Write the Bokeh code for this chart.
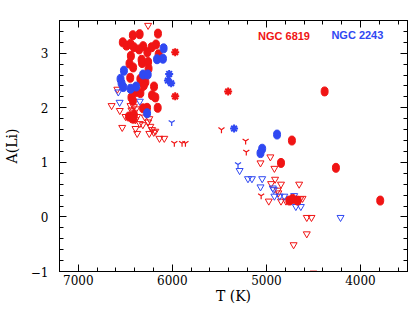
from bokeh.plotting import figure
from bokeh.models import Range1d, LinearAxis, SingleIntervalTicker
from bokeh.core.properties import value
from bokeh.embed import file_html
from bokeh.resources import INLINE

RED = "#f01414"
BLUE = "#2f48f2"

# NGC 6819 detections (filled circles)
r_det_T = [6420, 6348, 6153, 6527, 6488, 6445, 6409, 6311, 6353, 6221, 6174, 6266,
           6441, 6327, 6146, 6322, 6258, 6456, 6417, 6253, 6448, 6329, 6287, 6195,
           6385, 6435, 6216, 6181, 6420, 6311, 6269, 6156, 6340, 6304, 6462, 6409,
           6417, 6340, 4729, 4845, 4261, 4381, 3790, 4757, 4721, 4669]
r_det_A = [3.33, 3.35, 3.36, 3.20, 3.14, 3.17, 3.11, 3.13, 3.07, 3.11, 3.16, 3.02,
           2.95, 2.88, 2.98, 2.82, 2.84, 2.81, 2.74, 2.72, 2.55, 2.50, 2.47, 2.39,
           2.29, 2.19, 2.23, 2.19, 2.13, 1.99, 2.00, 2.00, 2.27, 2.41, 1.84, 1.87,
           1.80, 2.53, 1.40, 0.99, 0.90, 2.30, 0.30, 0.30, 0.33, 0.30]

# NGC 6819 asterisks
r_ast_T = [5970, 5970, 5407]
r_ast_A = [3.02, 2.21, 2.30]

# NGC 6819 upper limits (open triangles)
r_lim_T = [6258, 6585, 6304, 6646, 6559, 6445, 6409, 6385, 6435, 6420, 6498, 6445,
           6374, 6392, 6293, 6245, 6258, 6346, 6314, 6533, 6392, 6374, 6234, 6216,
           6245, 6198, 6181, 6137, 6086, 4958, 5063, 4915, 4908, 4950, 4845, 4652,
           4880, 4873, 4975, 4845, 4792, 4739, 4687, 4641, 4616, 4571, 4521, 4571,
           4711, 4500]
r_lim_A = [3.51, 2.34, 2.38, 2.04, 1.95, 2.04, 2.02, 1.98, 1.96, 1.92, 1.84, 1.80,
           1.84, 1.78, 1.83, 1.80, 1.74, 1.71, 1.69, 1.64, 1.62, 1.53, 1.66, 1.60,
           1.53, 1.55, 1.57, 1.44, 1.44, 1.10, 0.99, 0.89, 0.69, 0.61, 0.60, 0.60,
           0.49, 0.44, 0.29, 0.29, 0.29, 0.29, 0.33, 0.33, 0.34, -0.01, -0.01, -0.31,
           -0.51, -1.03]

# NGC 6819 "Y" limits
r_y_T = [5979, 5897, 5861, 5478, 5221, 5214, 5056]
r_y_A = [1.35, 1.35, 1.35, 1.60, 1.39, 1.19, 0.39]

# NGC 2243 detections
b_det_T = [6093, 6100, 6163, 6515, 6311, 6262, 6551, 6540, 6522, 6445, 6385, 6269,
           4887, 5045, 5063]
b_det_A = [3.09, 2.90, 2.89, 2.68, 2.61, 2.61, 2.53, 2.45, 2.38, 2.35, 2.39, 1.90,
           1.51, 1.25, 1.17]

# NGC 2243 asterisks
b_ast_T = [6034, 6047, 6013, 5344]
b_ast_A = [2.62, 2.50, 2.45, 1.62]

# NGC 2243 "Y" limits
b_y_T = [6007, 5302]
b_y_A = [1.73, 0.96]

# NGC 2243 upper limits
b_lim_T = [6575, 6561, 6346, 5285, 5196, 5154, 5045, 5063, 4932, 4922, 4915, 4859,
           4810, 4705, 4687, 4634, 4212]
b_lim_A = [2.29, 2.10, 2.12, 0.85, 0.70, 0.70, 0.70, 0.55, 0.53, 0.50, 0.38, 0.38,
           0.38, 0.39, 0.19, 0.19, -0.01]

labels = ["NGC 6819", "NGC 2243"]
label_T = [4813, 4033]
label_A = [3.31, 3.33]

p = figure(width=415, height=312, x_range=Range1d(7200, 3500), y_range=Range1d(-1, 3.6),
           output_backend="svg", toolbar_location=None,
           min_border_left=57, min_border_right=8, min_border_top=20, min_border_bottom=41)
p.grid.visible = False
p.outline_line_color = "black"
p.outline_line_width = 1
p.background_fill_color = "white"

xt = SingleIntervalTicker(interval=1000, num_minor_ticks=5)
yt = SingleIntervalTicker(interval=1, num_minor_ticks=5)
p.xaxis.ticker = xt
p.yaxis.ticker = yt
p.xaxis.axis_label = "T (K)"
p.yaxis.axis_label = "A(Li)"
p.yaxis.major_label_overrides = {-1: "\u22121"}

for ax in [p.xaxis[0], p.yaxis[0]]:
    ax.major_tick_in = 7
    ax.major_tick_out = 0
    ax.minor_tick_in = 4
    ax.minor_tick_out = 0
    ax.axis_line_color = "black"
    ax.major_label_text_font = "DejaVu Serif"
    ax.major_label_text_font_size = "12px"
    ax.major_label_text_color = "black"
    ax.axis_label_text_font = "DejaVu Serif"
    ax.axis_label_text_font_size = "14px"
    ax.axis_label_text_font_style = "normal"
    ax.axis_label_text_color = "black"

p.xaxis.major_label_standoff = 3
p.xaxis.axis_label_standoff = 0
p.yaxis.major_label_standoff = 11
p.yaxis.axis_label_standoff = 8

top = LinearAxis(ticker=SingleIntervalTicker(interval=1000, num_minor_ticks=5))
right = LinearAxis(ticker=SingleIntervalTicker(interval=1, num_minor_ticks=5))
for ax in [top, right]:
    ax.major_tick_in = 7
    ax.major_tick_out = 0
    ax.minor_tick_in = 4
    ax.minor_tick_out = 0
    ax.major_label_text_color = None
    ax.major_label_text_font_size = "1px"
    ax.major_label_standoff = 0
    ax.axis_line_color = "black"
p.add_layout(top, "above")
p.add_layout(right, "right")

# upper limits
p.scatter(r_lim_T, r_lim_A, marker="inverted_triangle", size=7, fill_color=None,
          line_color=RED, line_width=1)
p.scatter(b_lim_T, b_lim_A, marker="inverted_triangle", size=7, fill_color=None,
          line_color=BLUE, line_width=1)
p.scatter(r_y_T, r_y_A, marker="y", size=7, line_color=RED, line_width=1.2)
p.scatter(b_y_T, b_y_A, marker="y", size=7, line_color=BLUE, line_width=1.2)

# detections
p.ellipse(r_det_T, r_det_A, width=7, height=9, width_units="screen", height_units="screen",
          fill_color=RED, line_color=RED)
p.ellipse(b_det_T, b_det_A, width=7, height=9, width_units="screen", height_units="screen",
          fill_color=BLUE, line_color=BLUE)
p.scatter(r_ast_T, r_ast_A, marker="asterisk", size=8, line_color=RED, line_width=2)
p.scatter(b_ast_T, b_ast_A, marker="asterisk", size=8, line_color=BLUE, line_width=2)

p.text(x=label_T, y=label_A, text=labels, text_color=[RED, BLUE], text_align="center",
       text_baseline="middle", text_font=value("Liberation Sans"), text_font_style="bold",
       text_font_size="11px")

open("out.html", "w").write(file_html(p, INLINE))
